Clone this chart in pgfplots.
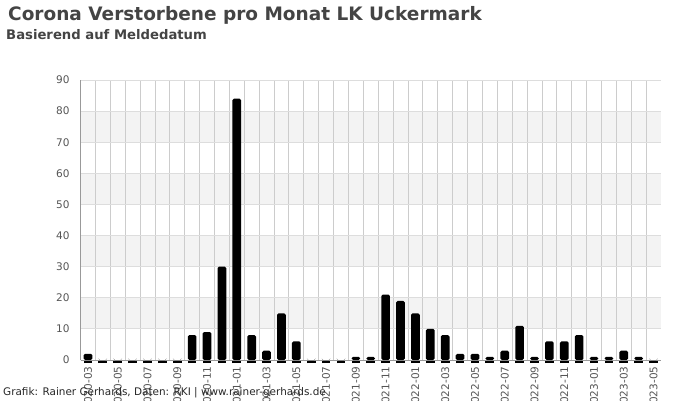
\documentclass[border=0pt]{standalone}
\usepackage{pgfplots}
\usepackage{pgfplotstable}
\pgfplotsset{compat=1.18}
\usepackage{fontspec}
\setmainfont{DejaVu Sans}
\definecolor{titlegray}{HTML}{444444}
\definecolor{tickgray}{HTML}{555555}
\definecolor{bandgray}{HTML}{F3F3F3}
\definecolor{hgrid}{HTML}{DDDDDD}
\definecolor{vgrid}{HTML}{CCCCCC}
\definecolor{axisgray}{HTML}{999999}
\pgfplotstableread{
i v
0 2
1 0
2 0
3 0
4 0
5 0
6 0
7 8
8 9
9 30
10 84
11 8
12 3
13 15
14 6
15 0
16 0
17 0
18 1
19 1
20 21
21 19
22 15
23 10
24 8
25 2
26 2
27 1
28 3
29 11
30 1
31 6
32 6
33 8
34 1
35 1
36 3
37 1
38 0
}\deaths
\begin{document}
\begin{tikzpicture}[x=1bp,y=1bp]
\foreach \k in {1,3,5,7} {
  \fill[bandgray] (80.5,{40+\k*280/9}) rectangle (661,{40+(\k+1)*280/9});
}
\begin{axis}[
  at={(80.5bp,40bp)}, anchor=south west,
  scale only axis, width=580.5bp, height=280bp,
  xmin=-0.5, xmax=38.5, ymin=0, ymax=90,
  axis x line*=bottom, axis y line*=left,
  axis line style={draw=axisgray, line width=0.8bp, -},
  ytick={0,10,...,90},
  ytick style={draw=none},
  xtick={0,...,38},
  xticklabels={2020-03,{},2020-05,{},2020-07,{},2020-09,{},2020-11,{},2021-01,{},2021-03,{},2021-05,{},2021-07,{},2021-09,{},2021-11,{},2022-01,{},2022-03,{},2022-05,{},2022-07,{},2022-09,{},2022-11,{},2023-01,{},2023-03,{},2023-05},
  tick align=center,
  major tick length=3bp,
  xtick style={draw=black, line width=8.7bp},
  minor xtick={0.5,1.5,...,37.5},
  minor tick length=0pt,
  xminorgrids=true,
  minor x grid style={draw=vgrid, line width=0.8bp},
  ymajorgrids=true,
  major y grid style={draw=hgrid, line width=0.8bp},
  /pgf/number format/assume math mode=true,
  yticklabel style={font=\fontsize{10.5bp}{12bp}\selectfont, text=tickgray, xshift=-6bp},
  xticklabel style={font=\fontsize{10.5bp}{12bp}\selectfont, text=tickgray, rotate=90, anchor=east},
  ybar, bar width=8.7bp,
]
\addplot[fill=black, draw=none, rounded corners=1.5bp] table[x=i, y=v] {\deaths};
\end{axis}
\node[anchor=base west, inner sep=0, text=titlegray, font=\bfseries\fontsize{18.5bp}{20bp}\selectfont] at (8,379.5) {Corona Verstorbene pro Monat LK Uckermark};
\node[anchor=base west, inner sep=0, text=titlegray, font=\bfseries\fontsize{13.2bp}{15bp}\selectfont] at (6,361) {Basierend auf Meldedatum};
\node[anchor=base west, inner sep=0, text=black!85, font=\fontsize{10.45bp}{12bp}\selectfont] at (3,5) {Grafik: Rainer Gerhards, Daten: RKI | www.rainer-gerhards.de};
\pgfresetboundingbox
\path[use as bounding box] (0,0) rectangle (700,400);
\end{tikzpicture}
\end{document}
